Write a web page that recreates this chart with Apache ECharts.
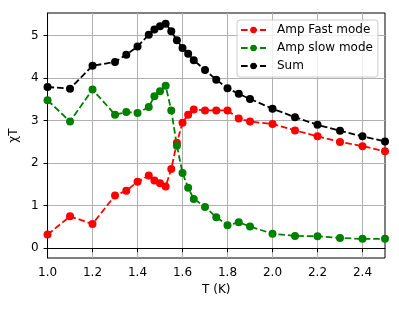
<!DOCTYPE html>
<html>
<head>
<meta charset="utf-8">
<script src="https://cdn.jsdelivr.net/npm/echarts@6/dist/echarts.min.js"></script>
<style>html,body{margin:0;padding:0;background:#fff}#c{width:399px;height:310px}</style>
</head>
<body>
<div id="c"></div>
<script>
const temps = [1.0, 1.1, 1.2, 1.3, 1.35, 1.4, 1.45, 1.475, 1.5, 1.525, 1.55, 1.575, 1.6, 1.625, 1.65, 1.7, 1.75, 1.8, 1.85, 1.9, 2.0, 2.1, 2.2, 2.3, 2.4, 2.5];
const ampFast = [0.32, 0.75, 0.57, 1.24, 1.35, 1.56, 1.71, 1.59, 1.53, 1.45, 1.86, 2.48, 2.95, 3.14, 3.26, 3.24, 3.24, 3.24, 3.05, 2.98, 2.92, 2.77, 2.63, 2.50, 2.40, 2.28];
const ampSlow = [3.48, 2.98, 3.73, 3.14, 3.20, 3.18, 3.32, 3.57, 3.69, 3.82, 3.24, 2.41, 1.77, 1.42, 1.16, 0.97, 0.73, 0.54, 0.61, 0.51, 0.34, 0.29, 0.28, 0.24, 0.22, 0.22];
const sumVals = [3.79, 3.75, 4.29, 4.38, 4.55, 4.74, 5.02, 5.14, 5.22, 5.28, 5.10, 4.89, 4.71, 4.57, 4.42, 4.19, 3.96, 3.76, 3.63, 3.51, 3.28, 3.08, 2.90, 2.76, 2.63, 2.51];
const xTicks = [1.0, 1.2, 1.4, 1.6, 1.8, 2.0, 2.2, 2.4];
const yTicks = [0, 1, 2, 3, 4, 5];
const seriesNames = ['Amp Fast mode', 'Amp slow mode', 'Sum'];
const seriesColors = ['#ff0000', '#008000', '#000000'];

const FONT = 'DejaVu Sans';
const FS = 12;
function mk(name, vals, color) {
  return {
    name: name, type: 'line',
    data: temps.map((t, i) => [t, vals[i]]),
    symbol: 'circle', symbolSize: 8,
    itemStyle: {color: color},
    lineStyle: {color: color, width: 1.8, type: [6.6, 2.9]},
    emphasis: {disabled: true},
    animation: false
  };
}
const chart = echarts.init(document.getElementById('c'), null, {renderer: 'canvas'});
chart.setOption({
  animation: false,
  backgroundColor: '#fff',
  grid: {left: 47, right: 14, top: 13, bottom: 52, show: true, borderColor: '#000', borderWidth: 1, backgroundColor: 'transparent'},
  legend: {
    orient: 'vertical', left: 237, top: 20,
    data: seriesNames,
    itemWidth: 25, itemHeight: 8, itemGap: 6,
    padding: [4, 5, 5, 3],
    borderColor: '#cccccc', borderWidth: 1, borderRadius: 3,
    backgroundColor: 'rgba(255,255,255,0.8)',
    textStyle: {fontFamily: FONT, fontSize: FS, color: '#000', padding: [0, 0, 0, 6]}
  },
  xAxis: {
    type: 'value', min: 1.0, max: 2.5, interval: 0.2,
    name: 'T (K)', nameLocation: 'middle', nameGap: 25,
    nameTextStyle: {fontFamily: FONT, fontSize: FS, color: '#000'},
    axisLine: {show: true, lineStyle: {color: '#000', width: 1}},
    axisTick: {show: true, inside: false, length: 4, lineStyle: {color: '#000'}, customValues: xTicks},
    axisLabel: {fontFamily: FONT, fontSize: FS, color: '#000', margin: 9, customValues: xTicks, formatter: v => v.toFixed(1)},
    splitLine: {show: true, lineStyle: {color: '#b0b0b0', width: 1}}
  },
  yAxis: {
    type: 'value', min: -0.23, max: 5.53,
    name: 'χT', nameLocation: 'middle', nameGap: 20, nameRotate: 90,
    nameTextStyle: {fontFamily: FONT, fontSize: FS, color: '#000'},
    axisLine: {show: true, lineStyle: {color: '#000', width: 1}},
    axisTick: {show: true, inside: false, length: 4, lineStyle: {color: '#000'}, customValues: yTicks},
    axisLabel: {fontFamily: FONT, fontSize: FS, color: '#000', margin: 9, customValues: yTicks},
    splitLine: {show: true, lineStyle: {color: '#b0b0b0', width: 1}}
  },
  series: [
    mk(seriesNames[0], ampFast, seriesColors[0]),
    mk(seriesNames[1], ampSlow, seriesColors[1]),
    mk(seriesNames[2], sumVals, seriesColors[2])
  ]
});
</script>
</body>
</html>
